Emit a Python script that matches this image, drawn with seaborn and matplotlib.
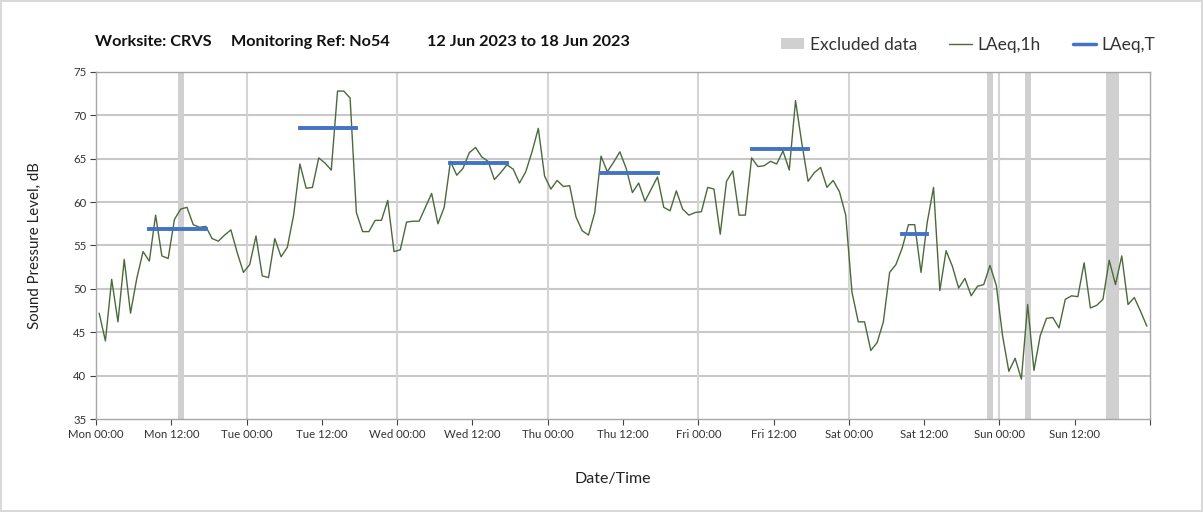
import numpy as np
import pandas as pd
import matplotlib
matplotlib.use("Agg")
import matplotlib.pyplot as plt
from matplotlib.patches import Patch
from matplotlib.lines import Line2D
import seaborn as sns

# ---------------- data ----------------
# hourly LAeq,1h values, Mon 00:00 .. Sun 23:00 (168 hours)
laeq_1h = [
    47.2, 44.0, 51.1, 46.2, 53.4, 47.2, 51.2, 54.3, 53.2, 58.5, 53.8, 53.5,
    58.0, 59.2, 59.4, 57.4, 57.1, 57.2, 55.8, 55.5, 56.2, 56.8, 54.2, 51.9,
    52.8, 56.1, 51.5, 51.3, 55.8, 53.7, 54.8, 58.5, 64.4, 61.6, 61.7, 65.1,
    64.5, 63.7, 72.8, 72.8, 72.0, 58.8, 56.6, 56.6, 57.9, 57.9, 60.2, 54.3,
    54.5, 57.7, 57.8, 57.8, 59.4, 61.0, 57.5, 59.4, 64.7, 63.1, 63.9, 65.7,
    66.3, 65.2, 64.7, 62.6, 63.4, 64.3, 63.8, 62.2, 63.5, 65.8, 68.5, 63.0,
    61.5, 62.5, 61.8, 61.9, 58.3, 56.7, 56.2, 58.8, 65.3, 63.5, 64.6, 65.8,
    63.9, 61.1, 62.2, 60.1, 61.5, 62.9, 59.4, 59.0, 61.3, 59.2, 58.5, 58.8,
    58.9, 61.7, 61.5, 56.3, 62.4, 63.6, 58.5, 58.5, 65.1, 64.1, 64.2, 64.7,
    64.4, 65.9, 63.7, 71.7, 66.8, 62.4, 63.4, 64.0, 61.7, 62.5, 61.2, 58.5,
    49.6, 46.2, 46.2, 42.9, 43.8, 46.2, 51.9, 52.8, 54.7, 57.4, 57.4, 51.9,
    57.7, 61.7, 49.8, 54.4, 52.6, 50.1, 51.2, 49.2, 50.3, 50.5, 52.7, 50.4,
    44.6, 40.5, 42.0, 39.6, 48.2, 40.6, 44.6, 46.6, 46.7, 45.5, 48.8, 49.2,
    49.1, 53.0, 47.8, 48.1, 48.8, 53.3, 50.5, 53.8, 48.2, 49.0, 47.4, 45.7,
]
hours = np.arange(len(laeq_1h))

# LAeq,T periods: start hour, end hour, level
period_start = [8, 32, 56, 80, 104, 128]
period_end = [18, 42, 66, 90, 114, 133]
period_level = [56.9, 68.5, 64.5, 63.4, 66.15, 56.35]

# Excluded data windows (hours from Mon 00:00)
excl_start = [13, 142, 148, 161]
excl_end = [14, 143, 149, 163]

days = ["Mon", "Tue", "Wed", "Thu", "Fri", "Sat", "Sun"]
tick_labels = [f"{d} {t}" for d in days for t in ("00:00", "12:00")]

title_parts = ["Worksite: CRVS", "Monitoring Ref: No54", "12 Jun 2023 to 18 Jun 2023"]

# ---------------- plot ----------------
sns.set_theme(style="white")
plt.rcParams["font.family"] = ["Lato", "DejaVu Sans"]

fig = plt.figure(figsize=(12.03, 5.12), dpi=100)
fig.patch.set_edgecolor("#d9d9d9")
fig.patch.set_linewidth(1.5)
ax = fig.add_axes([96 / 1203, 1 - 419 / 512, (1150 - 96) / 1203, (419 - 72) / 512])

df = pd.DataFrame({"hour": hours + 0.5, "level": laeq_1h})

for s, e in zip(excl_start, excl_end):
    ax.axvspan(s, e, color="#d0d0d0", lw=0, zorder=1)

sns.lineplot(data=df, x="hour", y="level", ax=ax, color="#4b6a3a", lw=1.0, zorder=3)

hl = ax.hlines(period_level, np.array(period_start) + 0.5, np.array(period_end) - 0.5,
               color="#4472C4", lw=2.8, zorder=4)
hl.set_capstyle("projecting")

ax.set_xlim(0, 168)
ax.set_ylim(35, 75)
ax.set_yticks(np.arange(35, 76, 5))
ax.set_xticks(np.arange(0, 169, 12))
ax.set_xticklabels(tick_labels + [""])
ax.tick_params(axis="both", labelsize=8.2, colors="#404040", length=4, width=0.8,
               direction="out", bottom=True, left=True, pad=3)
for lab in ax.get_xticklabels() + ax.get_yticklabels():
    lab.set_color("#333333")

# gridlines
for y in np.arange(40, 75, 5):
    ax.axhline(y, color="#c8c8c8", lw=1.5, zorder=0)
for x in np.arange(24, 168, 24):
    ax.axvline(x, color="#d4d4d4", lw=1.5, zorder=0)

for sp in ax.spines.values():
    sp.set_color("#a6a6a6")
    sp.set_linewidth(1.0)

ax.set_xlabel("")
ax.set_ylabel("")
fig.text(35 / 1203, 1 - 246 / 512, "Sound Pressure Level, dB", rotation=90,
         ha="center", va="center", fontsize=10.8, color="#222222")
fig.text(613 / 1203, 1 - 479 / 512, "Date/Time", ha="center", va="center",
         fontsize=11.5, color="#222222")
for xpos, part in zip([95, 231, 427], title_parts):
    fig.text(xpos / 1203, 1 - 42 / 512, part, ha="left", va="center",
             fontsize=11.7, fontweight="bold", color="#111111")

handles = [
    Patch(facecolor="#d0d0d0", edgecolor="none", label="Excluded data"),
    Line2D([], [], color="#4b6a3a", lw=1.0, label="LAeq,1h"),
    Line2D([], [], color="#4472C4", lw=2.5, label="LAeq,T"),
]
fig.legend(handles=handles, loc="center right", bbox_to_anchor=(1171 / 1203, 1 - 45 / 512),
           ncol=3, frameon=False, fontsize=12.5, handlelength=1.35, handleheight=0.6,
           columnspacing=1.85, handletextpad=0.3, labelcolor="#333333")

fig.savefig("out.png", dpi=100)
